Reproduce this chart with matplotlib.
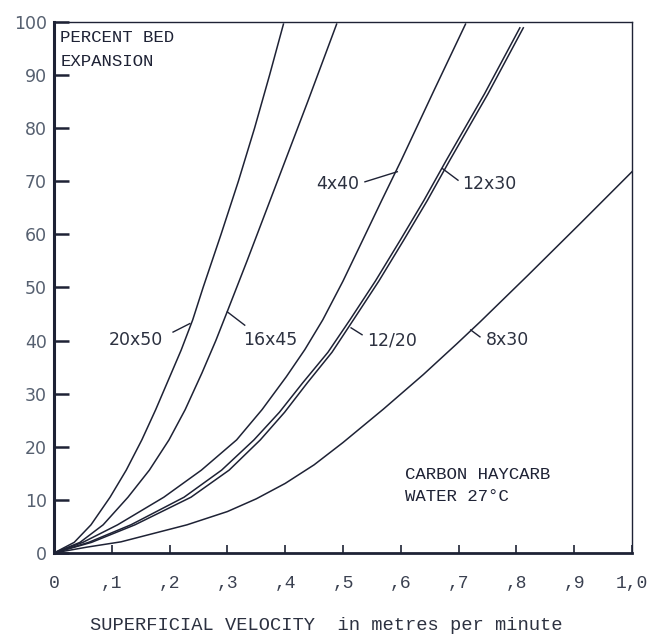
import matplotlib
matplotlib.use('Agg')
import matplotlib.pyplot as plt

# curves: superficial velocity (m/min) vs percent bed expansion
x_20x50 = [0, 0.035, 0.064, 0.097, 0.125, 0.152, 0.176, 0.198, 0.22, 0.24, 0.258, 0.289, 0.319, 0.347, 0.373, 0.397]
y_20x50 = [0, 2, 5.3, 10.5, 15.6, 21.3, 27, 32.6, 38.2, 43.9, 50, 60, 70, 80, 90, 99.6]

x_16x45 = [0, 0.045, 0.085, 0.128, 0.165, 0.199, 0.227, 0.256, 0.28, 0.301, 0.334, 0.369, 0.404, 0.439, 0.489]
y_16x45 = [0, 2, 5.3, 10.5, 15.6, 21.3, 27, 33.9, 40, 45.8, 55, 65, 75, 85, 99.6]

x_4x40 = [0, 0.05, 0.11, 0.19, 0.255, 0.316, 0.36, 0.402, 0.434, 0.465, 0.5, 0.534, 0.567, 0.601, 0.657, 0.712]
y_4x40 = [0, 2, 5.3, 10.5, 15.6, 21.3, 27, 33.2, 38.3, 43.9, 51.2, 58.9, 66.4, 74.0, 87, 99.6]

x_12x30 = [0, 0.06, 0.133, 0.225, 0.29, 0.346, 0.39, 0.43, 0.474, 0.512, 0.556, 0.599, 0.64, 0.679, 0.745, 0.806]
y_12x30 = [0, 2, 5.3, 10.5, 15.6, 21.3, 26.5, 32, 37.8, 43.9, 51.2, 58.9, 66.4, 74.0, 86.5, 98.9]

x_12_20 = [0, 0.065, 0.14, 0.237, 0.303, 0.357, 0.399, 0.438, 0.481, 0.518, 0.562, 0.605, 0.646, 0.685, 0.751, 0.812]
y_12_20 = [0, 2, 5.3, 10.5, 15.6, 21.3, 26.5, 32, 37.8, 43.9, 51.2, 58.9, 66.4, 74.0, 86.5, 98.9]

x_8x30 = [0, 0.057, 0.116, 0.23, 0.3, 0.35, 0.4, 0.45, 0.5, 0.57, 0.639, 0.697, 0.737, 0.82, 0.91, 1.0]
y_8x30 = [0, 1.1, 2.1, 5.3, 7.8, 10.2, 13.1, 16.6, 20.8, 27.1, 33.6, 39.4, 43.5, 52.3, 62, 71.8]

xticks = [0, 0.1, 0.2, 0.3, 0.4, 0.5, 0.6, 0.7, 0.8, 0.9, 1.0]
xtick_labels = ['0', ',1', ',2', ',3', ',4', ',5', ',6', ',7', ',8', ',9', '1,0']
yticks = [0, 10, 20, 30, 40, 50, 60, 70, 80, 90, 100]

# label text, text position, pointer start, pointer end (on curve)
labels = [
    ('20x50', (0.142, 40.1), (0.206, 41.6), (0.235, 43.2)),
    ('16x45', (0.375, 40.1), (0.330, 42.9), (0.300, 45.4)),
    ('4x40', (0.490, 69.5), (0.538, 69.9), (0.594, 71.8)),
    ('12x30', (0.753, 69.5), (0.699, 70.2), (0.672, 72.4)),
    ('12/20', (0.585, 40.1), (0.533, 41.1), (0.514, 42.4)),
    ('8x30', (0.784, 40.1), (0.737, 40.7), (0.721, 42.0)),
]

ink = '#1e2235'
mono = 'Liberation Mono'

fig = plt.figure(figsize=(6.52, 6.37), dpi=100)
ax = fig.add_axes([0.0828, 0.1319, 0.8865, 0.8336])

for xs, ys in [(x_20x50, y_20x50), (x_16x45, y_16x45), (x_4x40, y_4x40),
               (x_12x30, y_12x30), (x_12_20, y_12_20), (x_8x30, y_8x30)]:
    ax.plot(xs, ys, color=ink, lw=1.1, solid_joinstyle='round')

for txt, tpos, p0, p1 in labels:
    ax.text(tpos[0], tpos[1], txt, ha='center', va='center', fontsize=12.5,
            color='#2c3140', family='DejaVu Sans')
    ax.plot([p0[0], p1[0]], [p0[1], p1[1]], color=ink, lw=1.0)

ax.text(0.011, 97, 'PERCENT BED', fontsize=12.5, family=mono, color=ink,
        va='center', ha='left')
ax.text(0.011, 92.6, 'EXPANSION', fontsize=12.5, family=mono, color=ink,
        va='center', ha='left')
ax.text(0.607, 14.7, 'CARBON HAYCARB', fontsize=12.5, family=mono, color=ink,
        va='center', ha='left')
ax.text(0.607, 10.7, 'WATER 27°C', fontsize=12.5, family=mono, color=ink,
        va='center', ha='left')

ax.set_xlim(0, 1.0)
ax.set_ylim(0, 100)
ax.set_xticks(xticks)
ax.set_xticklabels(xtick_labels, family=mono, fontsize=13, color='#3a4050')
ax.set_yticks(yticks)
ax.set_yticklabels([str(v) for v in yticks], fontsize=12.5, color='#566070')
ax.tick_params(axis='y', direction='in', length=11, width=1.8, color=ink, pad=5)
ax.tick_params(axis='x', direction='in', length=6, width=1.2, color=ink, pad=16)

for side, lw in [('left', 2.2), ('bottom', 2.0), ('top', 1.0), ('right', 1.0)]:
    ax.spines[side].set_linewidth(lw)
    ax.spines[side].set_color(ink)

fig.text(0.5, 1 - 625 / 637, 'SUPERFICIAL VELOCITY  in metres per minute',
         ha='center', va='center', fontsize=13.5, family=mono, color='#2c3140')

fig.savefig('out.png', dpi=100, facecolor='white')
